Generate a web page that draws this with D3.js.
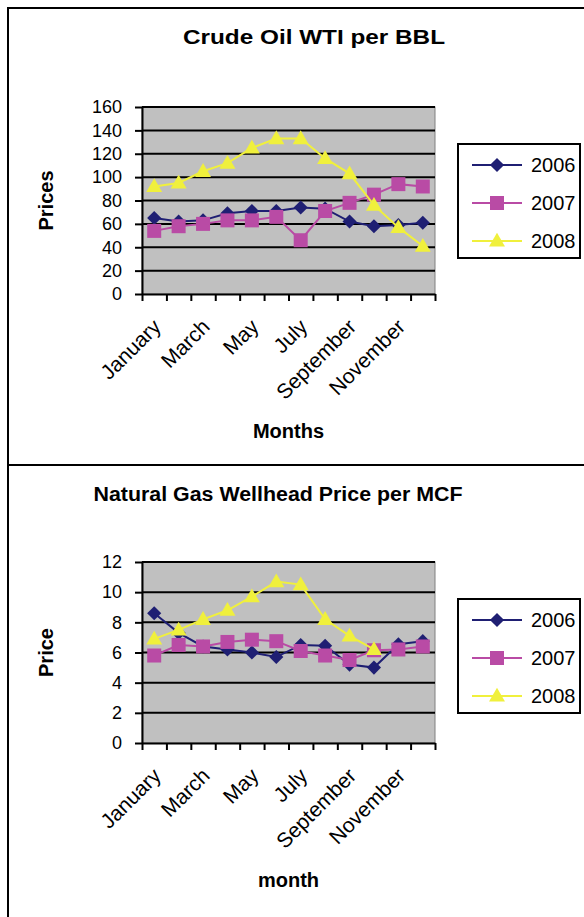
<!DOCTYPE html>
<html>
<head>
<meta charset="utf-8">
<script src="https://cdn.jsdelivr.net/npm/d3@7"></script>
<style>
  body { margin: 0; background: #fff; }
  text { font-family: "Liberation Sans", Arial, sans-serif; }
</style>
</head>
<body>
<div id="chart"></div>
<script>
// categories
const months = ["January", "February", "March", "April", "May", "June",
  "July", "August", "September", "October", "November", "December"]
const labelMonths = ["January", "March", "May", "July", "September", "November"]
const seriesNames = ["2006", "2007", "2008"]

// crude oil, $ per barrel
const oil2006 = [65, 62, 63, 69, 71, 71, 74, 73, 62, 58, 59, 61]
const oil2007 = [54, 58, 60, 63, 63, 66, 46, 71, 78, 85, 94, 92]
const oil2008 = [92, 95, 105, 112, 125, 133, 133, 116, 103, 76, 57, 41]
const oilTicks = [0, 20, 40, 60, 80, 100, 120, 140, 160]

// natural gas, $ per MCF (2008 stops at October)
const gas2006 = [8.6, 7.3, 6.4, 6.2, 6.0, 5.7, 6.5, 6.45, 5.2, 5.0, 6.55, 6.75]
const gas2007 = [5.8, 6.5, 6.4, 6.7, 6.85, 6.75, 6.1, 5.8, 5.5, 6.15, 6.2, 6.4]
const gas2008 = [6.9, 7.5, 8.2, 8.8, 9.7, 10.7, 10.5, 8.2, 7.1, 6.2, null, null]
const gasTicks = [0, 2, 4, 6, 8, 10, 12]

const colors = ["#1F1F73", "#B94BA5", "#F0F03C"]
const shapes = ["diamond", "square", "triangle"]

const svg = d3.select("#chart")
  .append("svg")
  .attr("width", 584)
  .attr("height", 917)
  .style("display", "block")

class lineChart {
  constructor(props) {
    const { top, height, title, titleX, titleY, titleLength, yTitle, xTitle, ticks, series } = props
    this.top = top
    this.height = height
    this.title = title
    this.titleX = titleX
    this.titleY = titleY
    this.titleLength = titleLength
    this.yTitle = yTitle
    this.xTitle = xTitle
    this.ticks = ticks
    this.series = series
    this.plotL = 142
    this.plotW = 293
    this.plotT = top + 99
    this.plotH = height
  }

  marker(g, shape, color, x, y) {
    let path
    if (shape === "diamond") {
      path = g.append("path")
        .attr("d", d3.symbol(d3.symbolSquare, 100)())
        .attr("transform", `translate(${x},${y}) rotate(45)`)
    } else if (shape === "square") {
      path = g.append("path")
        .attr("d", d3.symbol(d3.symbolSquare, 196)())
        .attr("transform", `translate(${x},${y})`)
    } else {
      path = g.append("path")
        .attr("d", d3.symbol(d3.symbolTriangle, 110)())
        .attr("transform", `translate(${x},${y + 1})`)
    }
    path.attr("fill", color)
  }

  render() {
    const g = svg.append("g")
    const x0 = this.plotL, y0 = this.plotT, w = this.plotW, h = this.plotH

    g.append("text")
      .attr("x", this.titleX)
      .attr("y", this.titleY)
      .attr("text-anchor", "middle")
      .attr("textLength", this.titleLength)
      .attr("lengthAdjust", "spacingAndGlyphs")
      .style("font-size", "20px")
      .style("font-weight", "bold")
      .text(this.title)

    const xBand = d3.scaleBand().domain(months).range([x0, x0 + w])
    const xEdge = d3.scaleLinear().domain([0, months.length]).range([x0, x0 + w])
    const y = d3.scaleLinear().domain([0, d3.max(this.ticks)]).range([y0 + h, y0])

    // plot area
    g.append("rect")
      .attr("x", x0).attr("y", y0)
      .attr("width", w).attr("height", h)
      .attr("fill", "#C0C0C0")
      .attr("stroke", "#808080")
      .attr("stroke-width", 1)

    g.append("g")
      .selectAll("line")
      .data(this.ticks.slice(1))
      .join("line")
      .attr("x1", x0).attr("x2", x0 + w)
      .attr("y1", d => y(d)).attr("y2", d => y(d))
      .attr("stroke", "#000")
      .attr("stroke-width", 2)

    // y axis
    g.append("g")
      .attr("transform", `translate(${x0},0)`)
      .call(d3.axisLeft(y).tickValues(this.ticks).tickSize(7).tickPadding(13).tickSizeOuter(0))
      .call(a => a.select(".domain").attr("stroke-width", 2))
      .call(a => a.selectAll(".tick line").attr("stroke-width", 2))
      .call(a => a.selectAll("text").style("font-size", "18px").attr("font-family", null))

    // x axis, ticks between categories
    g.append("g")
      .attr("transform", `translate(0,${y0 + h})`)
      .call(d3.axisBottom(xEdge).ticks(months.length).tickSize(7).tickFormat("").tickSizeOuter(0))
      .call(a => a.select(".domain").attr("stroke-width", 2))
      .call(a => a.selectAll(".tick line").attr("stroke-width", 2))

    g.append("g")
      .selectAll("text")
      .data(labelMonths)
      .join("text")
      .attr("transform", d => `translate(${xBand(d) + xBand.bandwidth() / 2 + 8},${y0 + h + 34}) rotate(-45)`)
      .attr("text-anchor", "end")
      .style("font-size", "21px")
      .text(d => d)

    g.append("text")
      .attr("x", x0 + w / 2)
      .attr("y", y0 + h + 144)
      .attr("text-anchor", "middle")
      .style("font-size", "20px")
      .style("font-weight", "bold")
      .text(this.xTitle)

    g.append("text")
      .attr("transform", `translate(53,${y0 + h / 2}) rotate(-90)`)
      .attr("text-anchor", "middle")
      .style("font-size", "20px")
      .style("font-weight", "bold")
      .text(this.yTitle)

    // series
    const line = d3.line()
      .defined(d => d != null)
      .x((d, i) => xBand(months[i]) + xBand.bandwidth() / 2)
      .y(d => y(d))

    this.series.forEach((values, s) => {
      const sg = g.append("g")
      sg.append("path")
        .datum(values)
        .attr("d", line)
        .attr("fill", "none")
        .attr("stroke", colors[s])
        .attr("stroke-width", 2)
      values.forEach((v, i) => {
        if (v == null) return
        this.marker(sg, shapes[s], colors[s], xBand(months[i]) + xBand.bandwidth() / 2, y(v))
      })
    })

    // legend
    const lg = g.append("g").attr("transform", `translate(458,${this.top + 136})`)
    lg.append("rect")
      .attr("width", 122).attr("height", 114)
      .attr("fill", "#fff")
      .attr("stroke", "#000")
      .attr("stroke-width", 2)
    seriesNames.forEach((name, s) => {
      const ly = 21 + s * 38
      lg.append("line")
        .attr("x1", 14).attr("x2", 64)
        .attr("y1", ly).attr("y2", ly)
        .attr("stroke", colors[s])
        .attr("stroke-width", 2)
      this.marker(lg, shapes[s], colors[s], 39, ly)
      lg.append("text")
        .attr("x", 73)
        .attr("y", ly + 7)
        .style("font-size", "20px")
        .text(name)
    })
  }
}

// outer frames
svg.append("rect").attr("x", 8).attr("y", 8).attr("width", 600).attr("height", 457)
  .attr("fill", "none").attr("stroke", "#000").attr("stroke-width", 2)
svg.append("rect").attr("x", 8).attr("y", 465).attr("width", 600).attr("height", 470)
  .attr("fill", "none").attr("stroke", "#000").attr("stroke-width", 2)

new lineChart({
  top: 8, height: 187,
  title: "Crude Oil WTI per BBL", titleX: 314, titleY: 44, titleLength: 262,
  yTitle: "Prices", xTitle: "Months",
  ticks: oilTicks,
  series: [oil2006, oil2007, oil2008]
}).render()

new lineChart({
  top: 463, height: 181,
  title: "Natural Gas Wellhead Price per MCF", titleX: 278, titleY: 501, titleLength: 369,
  yTitle: "Price", xTitle: "month",
  ticks: gasTicks,
  series: [gas2006, gas2007, gas2008]
}).render()
</script>
</body>
</html>
